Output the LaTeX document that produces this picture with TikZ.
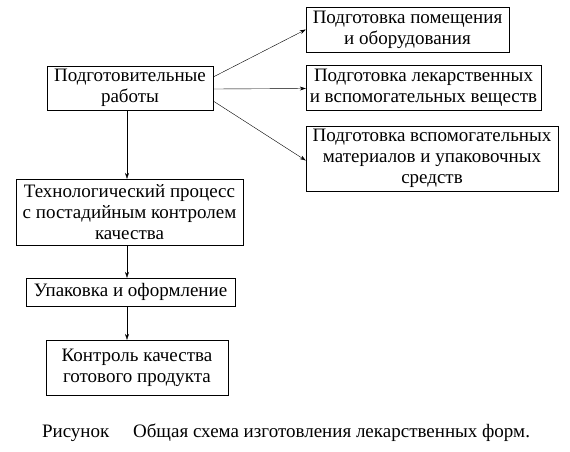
\documentclass[tikz,border=0pt]{standalone}
\usepackage{fontspec}
\setmainfont{Liberation Serif}
\usetikzlibrary{arrows.meta}

\tikzstyle{Box} = [draw,
                   rectangle,
                   align=center,
                   inner sep=2pt,
                   font=\fontsize{19}{21}\selectfont]
\tikzstyle{Link} = [-{Stealth[length=6pt, width=4pt]}, thin]

\begin{document}
\begin{tikzpicture}[x=1pt, y=-1pt]
	\useasboundingbox (0,0) rectangle (570,451);

	% Main column
	\node(prep) at (130, 88) [Box, minimum width=166pt, minimum height=44pt]{Подготовительные\\работы};
	\node(tech) at (129.5, 212) [Box, minimum width=227pt, minimum height=66pt]{Технологический процесс\\с постадийным контролем\\качества};
	\node(pack) at (130.5, 292) [Box, minimum width=209pt, minimum height=28pt]{Упаковка и оформление};
	\node(ctrl) at (137, 367.5) [Box, minimum width=182pt, minimum height=55pt]{Контроль качества\\готового продукта};

	% Preparation nodes
	\node(room) at (407.5, 29.5) [Box, minimum width=203pt, minimum height=45pt]{Подготовка помещения\\и оборудования};
	\node(subst) at (423.5, 87.5) [Box, minimum width=235pt, minimum height=45pt]{Подготовка лекарственных\\и вспомогательных веществ};
	\node(mater) at (432, 158.5) [Box, minimum width=252pt, minimum height=65pt]{Подготовка вспомогательных\\материалов и упаковочных\\средств};

	% Caption
	\node(caption) at (286, 433) [font=\fontsize{19}{21}\selectfont]{Рисунок\quad\ Общая схема изготовления лекарственных форм.};

	% Lines
	\draw [Link] ([yshift=11pt]prep.east) -- (room.west);
	\draw [Link] ([yshift=-1pt]prep.east) -- ([yshift=-1pt]subst.west);
	\draw [Link] ([yshift=-13pt]prep.east) -- ([yshift=-2pt]mater.west);
	\draw [Link] ([xshift=-3pt]prep.south) -- ([xshift=-3pt]prep.south |- tech.north);
	\draw [Link] ([xshift=-3pt]prep.south |- tech.south) -- ([xshift=-3pt]prep.south |- pack.north);
	\draw [Link] ([xshift=-3pt]prep.south |- pack.south) -- ([xshift=-3pt]prep.south |- ctrl.north);

\end{tikzpicture}
\end{document}
